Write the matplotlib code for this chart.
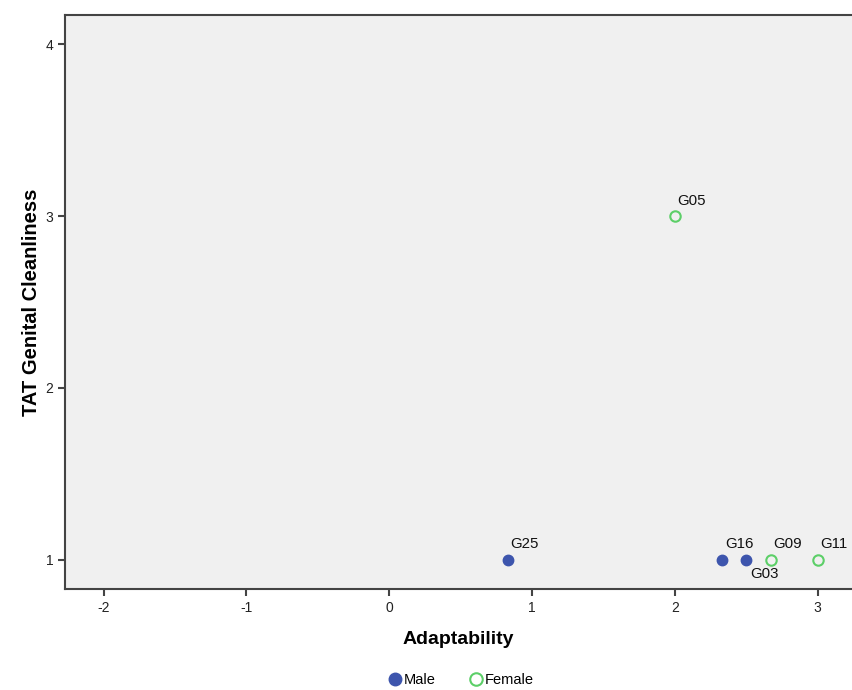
import matplotlib.pyplot as plt
from matplotlib.lines import Line2D

plt.rcParams['font.family'] = ['Liberation Sans', 'DejaVu Sans']
plt.rcParams['axes.unicode_minus'] = False

# data
male_ids = ['G25', 'G16', 'G03']
male_x = [0.83, 2.33, 2.5]
male_y = [1, 1, 1]
female_ids = ['G05', 'G09', 'G11']
female_x = [2.0, 2.67, 3.0]
female_y = [3, 1, 1]

# label offsets in points (dx, dy, va)
offsets = {
    'G25': (2, 6, 'bottom'),
    'G16': (2, 6, 'bottom'),
    'G03': (3, -5, 'top'),
    'G05': (2, 6, 'bottom'),
    'G09': (2, 6, 'bottom'),
    'G11': (2, 6, 'bottom'),
}

blue = '#3d55ad'
green = '#5ccf68'

fig = plt.figure(figsize=(8.52, 6.90), dpi=100)
ax = fig.add_axes([65 / 852, 101 / 690, 787 / 852, 574 / 690])
ax.set_facecolor('#f0f0f0')

ax.plot(male_x, male_y, 'o', ms=7.5, color=blue, mec=blue, zorder=3)
ax.plot(female_x, female_y, 'o', ms=7.5, mfc='none', mec=green, mew=1.5, zorder=3)

for name, x, y in zip(male_ids + female_ids, male_x + female_x, male_y + female_y):
    dx, dy, va = offsets[name]
    ax.annotate(name, (x, y), xytext=(dx, dy), textcoords='offset points',
                ha='left', va=va, fontsize=10.8, color='#111111')

ax.set_xlim(-2.27, 3.24)
ax.set_ylim(0.83, 4.17)
ax.set_xticks([-2, -1, 0, 1, 2, 3])
ax.set_yticks([1, 2, 3, 4])

for side in ['left', 'bottom', 'top']:
    ax.spines[side].set_color('#444444')
    ax.spines[side].set_linewidth(1.5)
ax.spines['right'].set_visible(False)
ax.tick_params(direction='out', length=5, width=1.5, color='#444444',
               labelsize=10, labelcolor='#222222')

ax.set_xlabel('Adaptability', fontsize=14, fontweight='bold', labelpad=12)
ax.set_ylabel('TAT Genital Cleanliness', fontsize=14.5, fontweight='bold', labelpad=3)

handles = [
    Line2D([], [], marker='o', ls='none', ms=9, color=blue),
    Line2D([], [], marker='o', ls='none', ms=9, mfc='none', mec=green, mew=1.5),
]
fig.legend(handles, ['Male', 'Female'], loc='center', bbox_to_anchor=(0.54, 0.015),
           ncol=2, frameon=False, fontsize=10.5, handletextpad=0.0,
           columnspacing=2.2, handlelength=1.2)

fig.savefig('out.png', dpi=100)
